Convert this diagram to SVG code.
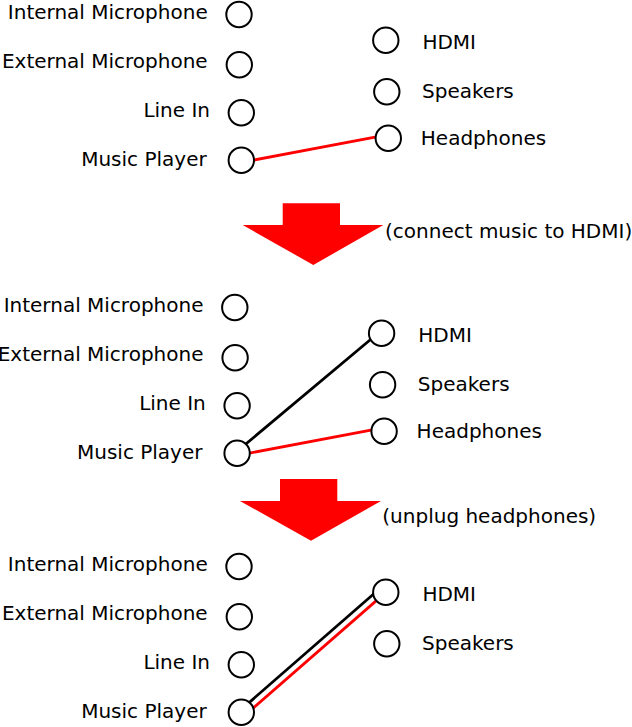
<svg xmlns="http://www.w3.org/2000/svg" width="632" height="727" viewBox="0 0 632 727">
<style>
text{font-family:"DejaVu Sans","Liberation Sans",sans-serif;font-size:20px;fill:#000}
.l{text-anchor:end}
circle{fill:#fff;stroke:#000;stroke-width:2}
.red{stroke:#f00;stroke-width:2.8;fill:none}
.blk{stroke:#000;stroke-width:2.8;fill:none}
.arrow{fill:#f00}
</style>
<g id="panel1">
  <g id="p1-connectors">
    <line class="red" x1="241.3" y1="162.4" x2="388.3" y2="134.7"/>
  </g>
  <g id="p1-internal-mic"><text class="l" x="207.7" y="18.5">Internal Microphone</text><circle cx="239" cy="14.5" r="12.7"/></g>
  <g id="p1-external-mic"><text class="l" x="207.7" y="68.3">External Microphone</text><circle cx="239.3" cy="64.7" r="12.7"/></g>
  <g id="p1-line-in"><text class="l" x="210" y="117.3">Line In</text><circle cx="241.3" cy="112.7" r="12.7"/></g>
  <g id="p1-music-player"><text class="l" x="206.7" y="165.7">Music Player</text><circle cx="241.3" cy="160.3" r="12.7"/></g>
  <g id="p1-hdmi"><circle cx="385.8" cy="40.3" r="12.7"/><text x="422.4" y="48.7">HDMI</text></g>
  <g id="p1-speakers"><circle cx="386.8" cy="91.8" r="12.7"/><text x="422" y="98.3">Speakers</text></g>
  <g id="p1-headphones"><circle cx="388.3" cy="138.2" r="12.7"/><text x="420.8" y="145">Headphones</text></g>
</g>
<g id="step1">
  <polygon class="arrow" points="282.7,203.3 340,203.3 340,225 383.3,225 313.3,265 242.7,225 282.7,225"/>
  <text x="385" y="237.7">(connect music to HDMI)</text>
</g>
<g id="panel2" transform="translate(-4.2,293)">
  <g id="p2-connectors">
    <line class="blk" x1="240.34" y1="159.15" x2="384.33" y2="38.53"/>
    <line class="red" x1="241.3" y1="162.4" x2="388.3" y2="134.7"/>
  </g>
  <g id="p2-internal-mic"><text class="l" x="207.7" y="18.5">Internal Microphone</text><circle cx="239" cy="14.5" r="12.7"/></g>
  <g id="p2-external-mic"><text class="l" x="207.7" y="68.3">External Microphone</text><circle cx="239.3" cy="64.7" r="12.7"/></g>
  <g id="p2-line-in"><text class="l" x="210" y="117.3">Line In</text><circle cx="241.3" cy="112.7" r="12.7"/></g>
  <g id="p2-music-player"><text class="l" x="206.7" y="165.7">Music Player</text><circle cx="241.3" cy="160.3" r="12.7"/></g>
  <g id="p2-hdmi"><circle cx="385.8" cy="40.3" r="12.7"/><text x="422.4" y="48.7">HDMI</text></g>
  <g id="p2-speakers"><circle cx="386.8" cy="91.8" r="12.7"/><text x="422" y="98.3">Speakers</text></g>
  <g id="p2-headphones"><circle cx="388.3" cy="138.2" r="12.7"/><text x="420.8" y="145">Headphones</text></g>
</g>
<g id="step2">
  <polygon class="arrow" points="280,479 337.3,479 337.3,501 381,501 311,540.7 240,501 280,501"/>
  <text x="382.3" y="522.7">(unplug headphones)</text>
</g>
<g id="panel3" transform="translate(0,552)">
  <g id="p3-connectors">
    <line class="blk" x1="239.57" y1="158.84" x2="381.37" y2="35.24"/>
    <line class="red" x1="244.03" y1="163.96" x2="385.83" y2="40.36"/>
  </g>
  <g id="p3-internal-mic"><text class="l" x="207.7" y="18.5">Internal Microphone</text><circle cx="239" cy="14.5" r="12.7"/></g>
  <g id="p3-external-mic"><text class="l" x="207.7" y="68.3">External Microphone</text><circle cx="239.3" cy="64.7" r="12.7"/></g>
  <g id="p3-line-in"><text class="l" x="210" y="117.3">Line In</text><circle cx="241.3" cy="112.7" r="12.7"/></g>
  <g id="p3-music-player"><text class="l" x="206.7" y="165.7">Music Player</text><circle cx="241.3" cy="160.3" r="12.7"/></g>
  <g id="p3-hdmi"><circle cx="385.8" cy="40.3" r="12.7"/><text x="422.4" y="48.7">HDMI</text></g>
  <g id="p3-speakers"><circle cx="386.8" cy="91.8" r="12.7"/><text x="422" y="98.3">Speakers</text></g>
</g>
</svg>
